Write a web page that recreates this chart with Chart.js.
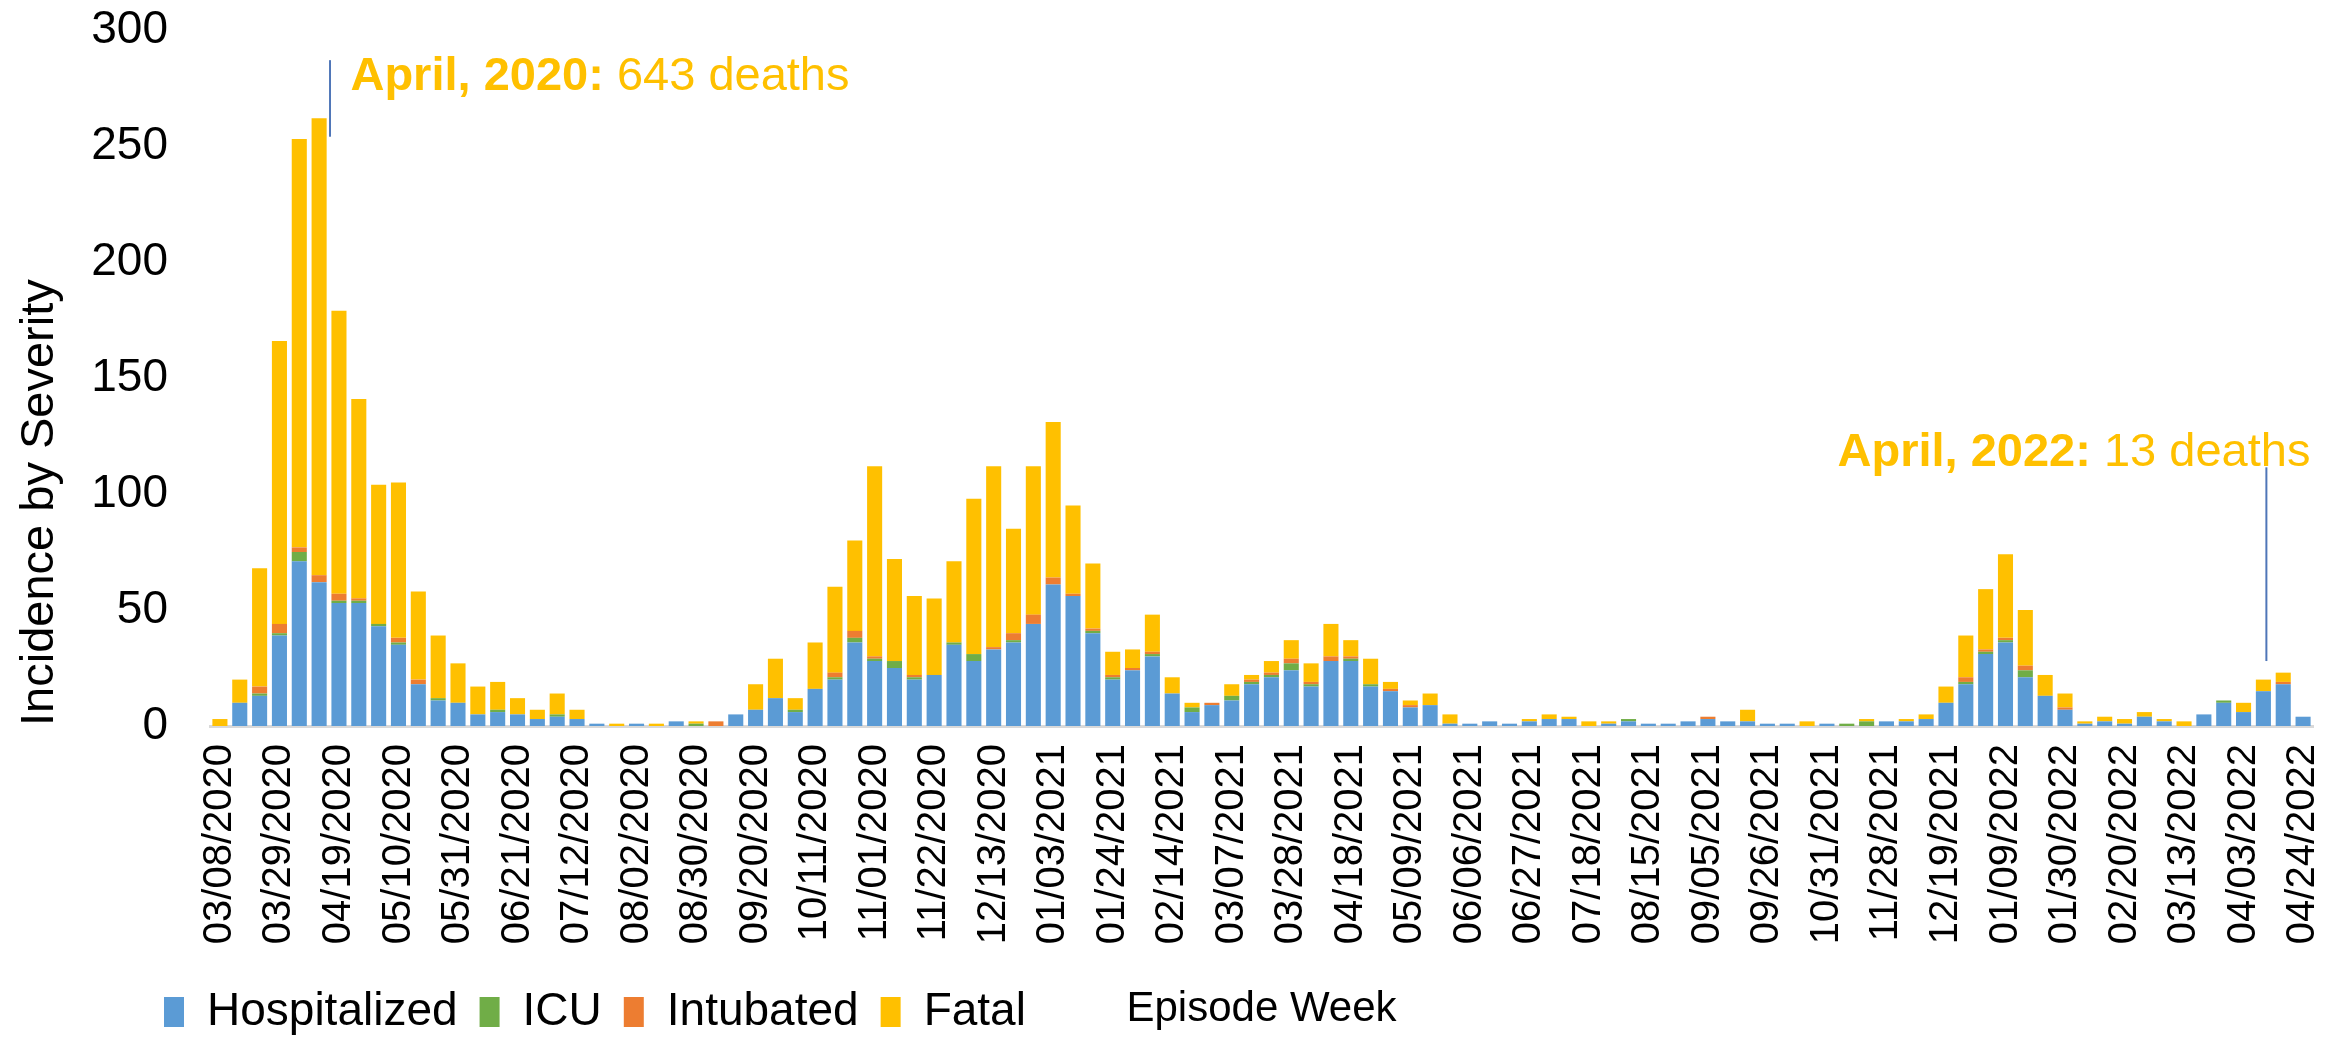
<!DOCTYPE html>
<html>
<head>
<meta charset="utf-8">
<script src="https://cdn.jsdelivr.net/npm/chart.js@4/dist/chart.umd.min.js"></script>
<style>
  html, body { margin: 0; padding: 0; background: #fff; }
  #wrap { width: 2341px; height: 1038px; }
</style>
</head>
<body>
<div id="wrap"><canvas id="severity" width="2341" height="1038"></canvas></div>
<script>
// weekly episode dates (a few weeks are missing in the source data)
const weeks = [
  "03/08/2020","03/15/2020","03/22/2020","03/29/2020","04/05/2020","04/12/2020","04/19/2020","04/26/2020",
  "05/03/2020","05/10/2020","05/17/2020","05/24/2020","05/31/2020","06/07/2020","06/14/2020","06/21/2020",
  "06/28/2020","07/05/2020","07/12/2020","07/19/2020","07/26/2020","08/02/2020","08/16/2020","08/23/2020",
  "08/30/2020","09/06/2020","09/13/2020","09/20/2020","09/27/2020","10/04/2020","10/11/2020","10/18/2020",
  "10/25/2020","11/01/2020","11/08/2020","11/15/2020","11/22/2020","11/29/2020","12/06/2020","12/13/2020",
  "12/20/2020","12/27/2020","01/03/2021","01/10/2021","01/17/2021","01/24/2021","01/31/2021","02/07/2021",
  "02/14/2021","02/21/2021","02/28/2021","03/07/2021","03/14/2021","03/21/2021","03/28/2021","04/04/2021",
  "04/11/2021","04/18/2021","04/25/2021","05/02/2021","05/09/2021","05/16/2021","05/23/2021","06/06/2021",
  "06/13/2021","06/20/2021","06/27/2021","07/04/2021","07/11/2021","07/18/2021","07/25/2021","08/08/2021",
  "08/15/2021","08/22/2021","08/29/2021","09/05/2021","09/12/2021","09/19/2021","09/26/2021","10/10/2021",
  "10/24/2021","10/31/2021","11/07/2021","11/21/2021","11/28/2021","12/05/2021","12/12/2021","12/19/2021",
  "12/26/2021","01/02/2022","01/09/2022","01/16/2022","01/23/2022","01/30/2022","02/06/2022","02/13/2022",
  "02/20/2022","02/27/2022","03/06/2022","03/13/2022","03/20/2022","03/27/2022","04/03/2022","04/10/2022",
  "04/17/2022","04/24/2022"
];

const hospitalized = [
  0,10,13,39,71,62,53,53,43,35, 18,11,10,5,6,5,3,4,3,1,
  0,1,0,2,0,0,5,7,12,6, 16,20,36,28,25,20,22,35,28,33,
  36,44,61,56,40,20,24,30,14,6, 9,11,18,21,24,17,28,28,17,15,
  8,9,1,1,2,1,2,3,3,0, 1,2,1,1,2,3,2,2,1,1,
  0,1,0,0,2,2,3,10,18,31, 36,21,13,7,1,2,1,4,2,0,
  5,10,6,15,18,4
];
const icu = [
  0,0,1,1,4,0,1,1,1,1, 0,1,0,0,1,0,0,1,0,0,
  0,0,0,0,1,0,0,0,0,1, 0,1,2,1,3,1,0,1,3,0,
  1,0,0,0,1,1,0,1,0,2, 0,2,1,1,3,1,0,1,1,0,
  0,0,0,0,0,0,0,0,0,0, 0,1,0,0,0,0,0,0,0,0,
  0,0,1,2,0,0,0,0,1,1, 1,3,0,0,0,0,0,0,0,0,
  0,1,0,0,0,0
];
const intubated = [
  0,0,3,4,2,3,3,1,0,2, 2,0,0,0,0,0,0,0,0,0,
  0,0,0,0,0,2,0,0,0,0, 0,2,3,1,0,1,0,0,0,1,
  3,4,3,1,1,1,1,1,0,0, 1,0,1,1,2,1,2,1,0,1,
  1,0,0,0,0,0,0,0,0,0, 0,0,0,0,0,1,0,0,0,0,
  0,0,0,0,0,0,0,0,2,1, 1,2,0,1,0,0,0,0,0,0,
  0,0,0,0,1,0
];
const fatal = [
  3,10,51,122,176,197,122,86,60,67, 38,27,17,12,12,7,4,9,4,0,
  1,0,1,0,1,0,0,11,17,5, 20,37,39,82,44,34,33,35,67,78,
  45,64,67,38,28,10,8,16,7,2, 0,5,2,5,8,8,14,7,11,3,
  2,5,4,0,0,0,1,2,1,2, 1,0,0,0,0,0,0,5,0,0,
  2,0,0,1,0,1,2,7,18,26, 36,24,9,6,1,2,2,2,1,2,
  0,0,4,5,4,0
];

// callouts: [bold part, regular part, line week index, line from, line to, text anchor index, text baseline value, align]
const callouts = [
  ["April, 2020:", " 643 deaths", 5.55, 254, 287, 6.58, 274, "left"],
  ["April, 2022:", " 13 deaths", 103.15, 28, 111.5, 105.37, 112, "right"]
];

const FONT = "'Liberation Sans', Arial, Helvetica, sans-serif";
const GOLD = "#FFC000";

Chart.defaults.font.family = FONT;
Chart.defaults.color = "#000";

const calloutPlugin = {
  id: "callouts",
  afterDatasetsDraw(chart) {
    const ctx = chart.ctx;
    const xs = chart.scales.x, ys = chart.scales.y;
    ctx.save();
    callouts.forEach(c => {
      const lx = xs.getPixelForValue(c[2]);
      ctx.strokeStyle = "#4F76B8";
      ctx.lineWidth = 2;
      ctx.beginPath();
      ctx.moveTo(lx, ys.getPixelForValue(c[3]));
      ctx.lineTo(lx, ys.getPixelForValue(c[4]));
      ctx.stroke();

      const bold = "bold 47px " + FONT, normal = "47px " + FONT;
      ctx.font = bold;
      const wb = ctx.measureText(c[0]).width;
      ctx.font = normal;
      const wn = ctx.measureText(c[1]).width;
      let tx = xs.getPixelForValue(c[5]);
      if (c[7] === "right") tx -= wb + wn;
      const ty = ys.getPixelForValue(c[6]);
      ctx.fillStyle = GOLD;
      ctx.textAlign = "left";
      ctx.textBaseline = "alphabetic";
      ctx.font = bold;
      ctx.fillText(c[0], tx, ty);
      ctx.font = normal;
      ctx.fillText(c[1], tx + wb, ty);
    });
    ctx.restore();
  }
};

// put the legend in the bottom-left corner, next to the axis title
const legendPlace = {
  id: "legendPlace",
  afterLayout(chart) {
    const lg = chart.legend;
    if (!lg) return;
    const pad = lg.options.labels.padding;
    const w = lg.width, h = lg.height;
    lg.left = 164 - pad; lg.right = lg.left + w;
    lg.top = 989 - pad; lg.bottom = lg.top + h;
  }
};

new Chart(document.getElementById("severity"), {
  type: "bar",
  data: {
    labels: weeks,
    datasets: [
      { label: "Hospitalized", data: hospitalized, backgroundColor: "#5B9BD5" },
      { label: "ICU", data: icu, backgroundColor: "#70AD47" },
      { label: "Intubated", data: intubated, backgroundColor: "#ED7D31" },
      { label: "Fatal", data: fatal, backgroundColor: GOLD }
    ]
  },
  options: {
    responsive: false,
    animation: false,
    devicePixelRatio: 1,
    datasets: { bar: { categoryPercentage: 1.0, barPercentage: 0.76 } },
    layout: { padding: { left: 10, right: 28, top: 30, bottom: 0 } },
    plugins: {
      tooltip: { enabled: false },
      legend: {
        position: "bottom",
        align: "start",
        labels: { boxWidth: 20, boxHeight: 30, padding: 22, font: { size: 46 }, color: "#000" }
      }
    },
    scales: {
      x: {
        stacked: true,
        // hidden tick marks only reserve the gap under the axis line
        grid: { display: false, drawTicks: true, tickLength: 18 },
        border: { display: true, color: "#D9D9D9", width: 3 },
        ticks: {
          autoSkip: false, minRotation: 90, maxRotation: 90, padding: 0,
          font: { size: 40 },
          callback: function(v, i) { return i % 3 === 0 ? this.getLabelForValue(v) : ""; }
        },
        title: { display: true, text: "Episode Week", font: { size: 42 }, padding: { top: 0, bottom: -75 } },
        afterFit: s => {
          s.height = 1038 - 726 - (s.chart.legend ? s.chart.legend.height : 0);
          s.paddingLeft = 0; s.paddingRight = 0;
        }
      },
      y: {
        stacked: true,
        min: 0, max: 300,
        grid: { display: false, drawTicks: true, tickLength: 42 },
        border: { display: false },
        ticks: { stepSize: 50, padding: 0, font: { size: 46 } },
        title: { display: true, text: "Incidence by Severity", align: "start", font: { size: 47 }, padding: { top: 2, bottom: 0 } },
        afterFit: s => { s.width = 200; }
      }
    }
  },
  plugins: [calloutPlugin, legendPlace]
});
</script>
</body>
</html>
